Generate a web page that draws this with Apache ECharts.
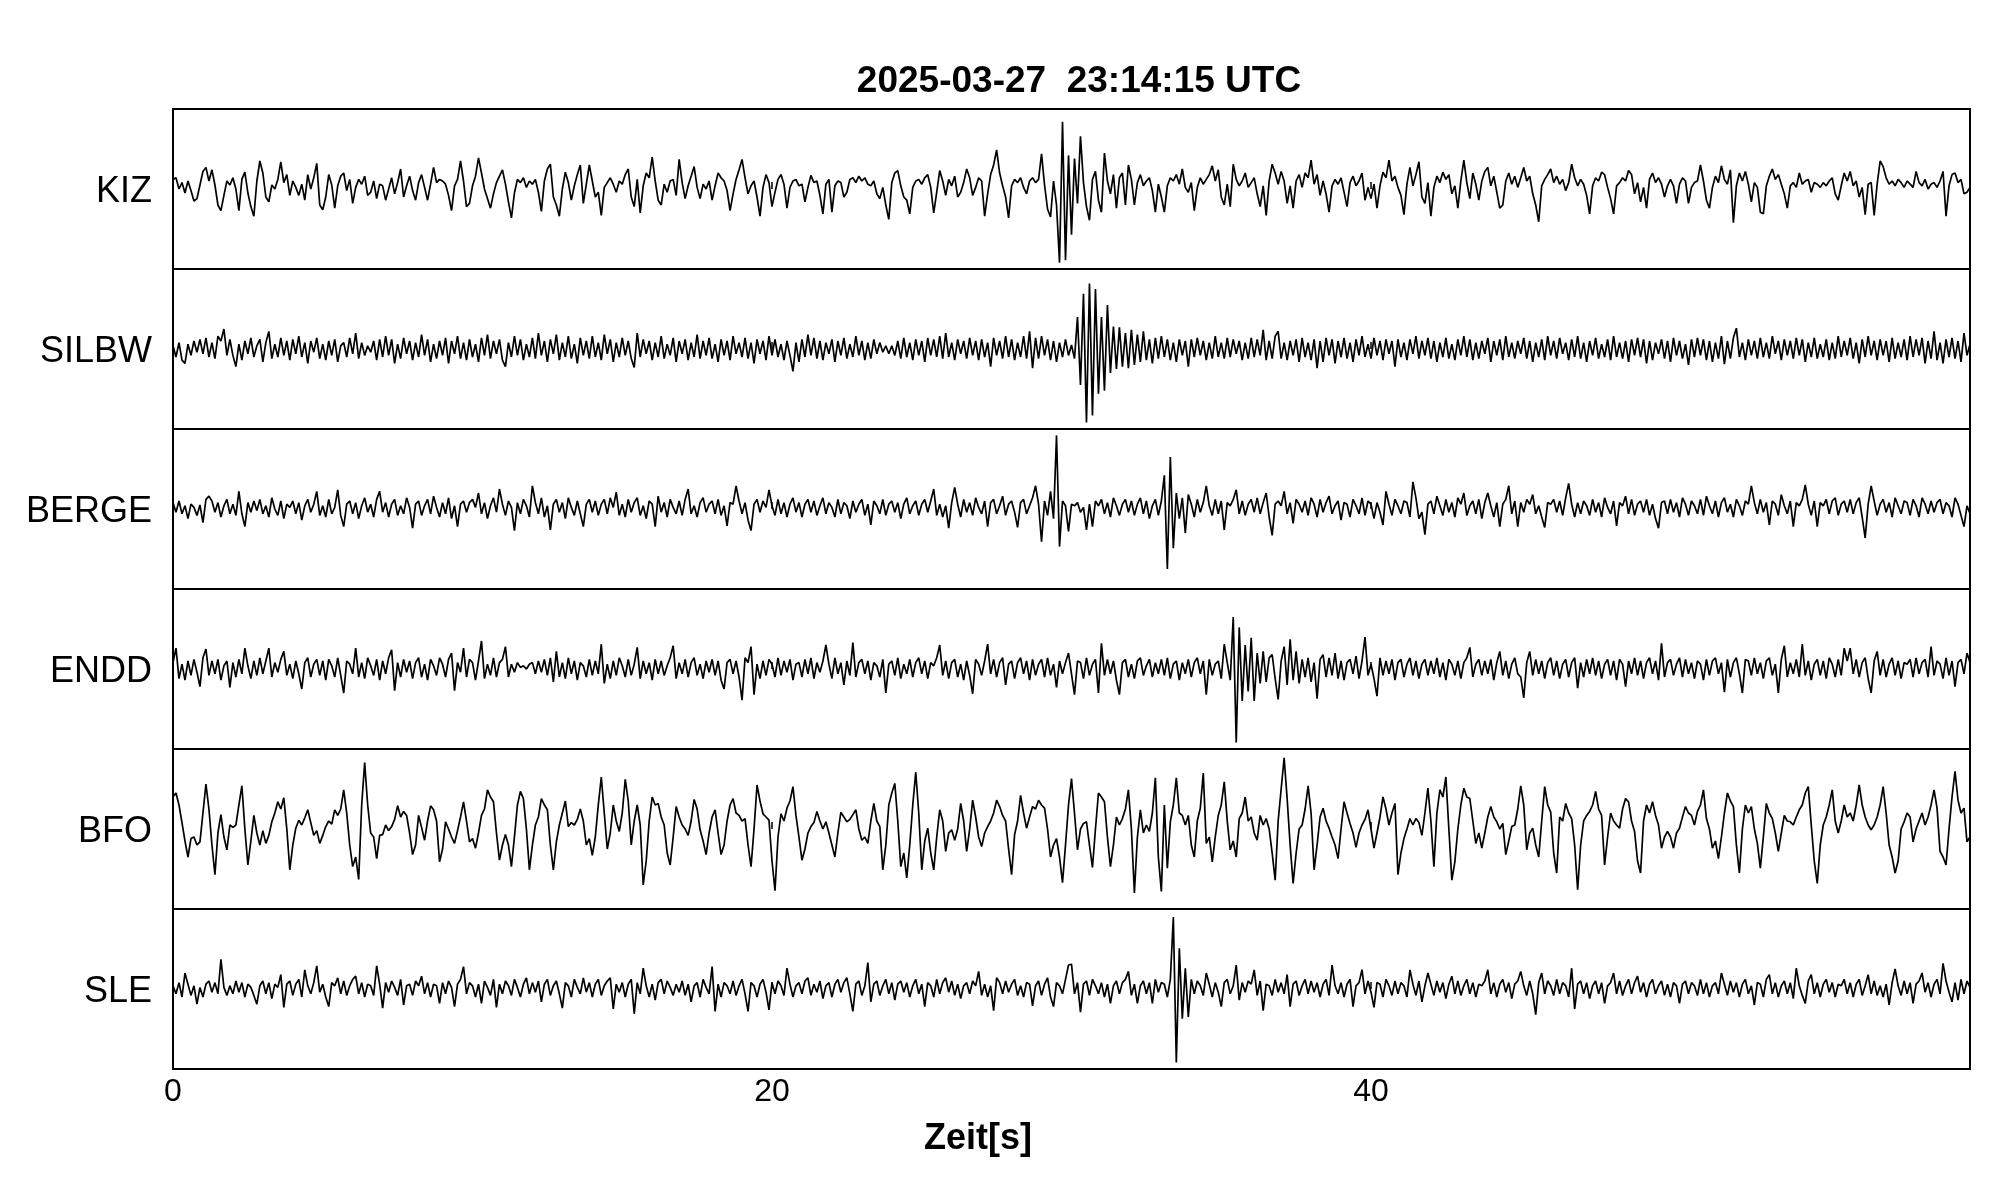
<!DOCTYPE html>
<html><head><meta charset="utf-8">
<script src="https://cdn.jsdelivr.net/npm/echarts@6/dist/echarts.min.js"></script>
<style>html,body{margin:0;padding:0;background:#fff}#c{width:2005px;height:1202px}</style>
</head><body><div id="c"></div><script>
const TITLE = '2025-03-27  23:14:15 UTC';
const X_NAME = 'Zeit[s]';
const STATIONS = ['KIZ','SILBW','BERGE','ENDD','BFO','SLE'];
const DT = 0.1;            // seconds per sample
const X_MIN = 0, X_MAX = 60, X_STEP = 20;

// amplitudes in percent of half panel height, one row = one second
const KIZ = [
12,14,0,8,-5,10,-2,-15,-12,5,
22,27,10,24,5,-20,-27,-8,10,5,
14,0,-27,12,21,-5,-22,-34,10,35,
20,-10,-16,5,0,12,34,8,18,-8,
10,2,-8,6,-14,18,0,14,32,-20,
-26,-10,18,5,-24,4,16,20,-2,12,
-18,2,12,6,16,-8,-4,10,-12,6,
4,-14,0,14,-6,8,25,-10,4,16,
-2,-14,8,18,2,-14,6,27,8,12,
10,6,-8,-27,4,12,35,10,-22,-18,
4,16,39,20,0,-12,-24,-6,8,16,
24,6,-16,-36,-5,12,8,14,2,10,
6,12,-4,-28,10,25,31,-10,-20,-34,
0,21,8,-14,4,18,30,-18,6,30,
10,-10,-4,-33,2,8,14,6,-4,10,
6,18,25,-10,-22,12,-30,4,20,14,
40,10,-14,-20,6,-4,10,12,-8,37,
8,-12,4,16,28,2,-12,6,0,10,
-14,4,20,14,10,-2,-27,-6,12,24,
37,14,-6,4,10,-10,-34,2,18,8,
-22,-4,12,18,6,-24,2,10,12,4,
6,-16,2,17,8,10,-8,-31,6,12,
-29,4,10,8,-10,-4,12,14,8,16,
10,14,6,4,10,-6,-12,2,-20,-38,
8,20,23,4,-10,-14,-31,2,10,12,
6,14,18,2,-30,-4,23,10,-8,12,
4,16,-10,-4,8,25,14,-8,2,14,
10,-34,-6,18,30,49,20,4,-10,-36,
4,12,8,14,2,-6,10,14,8,12,
44,5,-25,-35,10,-20,-92,84,-89,42,
-57,38,-18,66,8,-22,-39,12,22,-14,
-29,45,10,-6,18,-24,14,20,-20,30,
12,-20,8,18,4,10,14,-2,-29,6,
-10,-29,4,14,10,18,6,25,2,-4,
8,-27,2,14,6,12,18,29,10,24,
-10,-20,6,-22,31,12,4,10,20,2,
8,14,-6,-22,4,-33,10,31,20,6,
22,10,-18,4,-24,10,18,2,20,14,
36,6,18,-8,10,-6,-29,4,12,6,
14,-4,-22,8,16,4,10,20,-14,2,
-12,6,-24,4,21,14,36,10,16,2,
-8,-32,6,27,4,18,34,-10,-18,8,
-34,2,16,8,21,12,18,-6,4,-24,
10,36,8,-12,20,6,-14,10,22,27,
4,16,-4,-24,-20,10,20,6,16,2,
14,27,10,16,-6,-20,-41,4,12,18,
25,8,16,6,12,-2,8,31,14,4,
12,6,-8,-31,4,14,10,21,18,2,
-12,-31,4,8,14,10,23,18,-6,8,
-16,2,-24,12,20,8,14,6,-10,4,
12,4,-18,6,14,10,-18,2,8,10,
30,10,-14,-24,2,16,8,29,12,6,
24,-42,4,20,10,22,6,-16,8,2,
-29,-31,4,16,25,12,18,6,-6,-24,
4,8,2,20,6,10,12,-4,8,6,
2,8,4,10,14,-6,-14,4,20,10,
22,4,10,-10,2,-32,6,8,-33,6,
35,28,14,6,10,4,12,8,2,10,
6,2,22,8,4,12,0,6,8,2,
10,22,-34,4,18,20,8,12,-6,-4,2];

const SILBW = [
4,-10,8,-14,-18,6,-8,10,-4,12,
-6,14,-10,8,-12,16,10,25,-8,12,
-8,-22,6,-14,10,-6,14,-10,4,12,
-16,8,22,-12,6,-10,14,-8,10,-14,
12,-6,16,-10,8,-18,10,-4,14,-12,
6,-14,10,-8,12,-16,4,8,-10,14,
-6,20,-12,8,-8,4,-4,10,-14,12,
-10,16,-8,12,-18,6,-12,14,-6,10,
-14,8,-10,18,-8,12,-16,6,-12,10,
-8,14,-18,10,-6,16,-12,8,-14,12,
-10,6,-16,14,-8,18,-12,10,-6,12,
-14,-22,8,-10,16,-8,12,-14,6,-10,
14,-12,20,-8,10,-16,12,-6,18,-14,
8,-10,16,-12,6,-18,14,-8,10,-12,
16,-10,8,-14,18,-6,12,-16,8,-10,
14,-8,10,-12,-23,20,-10,12,-6,10,
-14,8,-10,16,-12,6,-8,14,-16,10,
-6,12,-14,8,-10,18,-12,10,-8,14,
-12,6,-16,12,-8,10,-14,16,-6,8,
-10,14,-12,8,-18,12,-6,10,-14,16,
-8,12,-10,6,-14,10,-8,-28,8,-16,
12,-10,18,-8,14,-12,10,-14,8,-6,
12,-16,10,-8,14,-12,6,-10,16,-8,
10,-14,8,-12,12,-6,8,-4,4,-6,
4,-8,10,-12,14,-10,8,-14,12,-8,
10,-16,14,-8,12,-10,16,-12,20,-10,
8,-14,12,-6,10,-12,14,-8,10,-14,
12,-10,8,-22,14,-8,10,-12,16,-10,
12,-14,8,-10,16,-12,22,-24,14,-12,
16,-8,12,-14,10,-16,8,-10,12,-8,
5,-12,40,-45,69,-92,82,-83,75,-56,
40,-52,55,-30,28,-25,27,-22,20,-24,
24,-20,18,-16,22,-14,12,-18,14,-12,
16,-10,12,-14,8,-16,12,-8,10,-22,
12,-10,14,-8,10,-14,8,-12,16,-10,
8,-12,14,-10,12,-6,10,-14,8,-12,
14,-10,12,-8,24,-14,10,-12,16,22,
-12,8,-14,10,-8,12,-16,14,-10,8,
-14,12,-24,10,-16,14,-8,12,-18,10,
-10,14,-12,8,-16,12,-8,16,-10,6,
-12,14,-8,10,-14,12,-6,10,-22,12,
-10,8,-14,12,-6,16,-12,10,-8,14,
-12,10,-16,8,-10,14,-12,6,-14,12,
-8,16,-10,12,-14,8,-12,10,-6,14,
-16,10,-8,12,-14,16,-10,8,-12,10,
-6,14,-12,10,-16,8,-10,12,-14,16,
-8,10,-12,14,-6,8,-14,12,-10,16,
-12,8,-16,10,-8,14,-12,6,-10,12,
-14,16,-10,8,-12,10,-16,12,-8,14,
-10,12,-18,10,-14,8,-6,12,-12,10,
-16,14,-8,10,-12,6,-20,12,-10,14,
-8,12,-14,10,-16,8,-12,16,-19,10,
-12,14,26,-10,8,-14,12,-8,10,-12,
14,-10,8,-12,16,-6,10,-14,12,-8,
10,-12,14,-8,12,-16,8,-10,14,-12,
6,-10,12,-14,8,-12,16,-10,10,-8,
14,-12,8,-18,12,-10,16,-8,10,-14,
12,-8,10,-16,14,-12,8,-10,12,-14,
16,-10,12,-8,14,-18,10,-12,22,-14,
8,-18,12,-10,14,-12,10,-16,20,-8,6];

const BERGE = [
8,-4,10,-6,4,-12,6,2,-8,5,
-17,12,16,10,-4,8,-10,4,12,-6,
6,-8,22,-6,-22,8,-4,10,-2,12,
-6,4,-10,14,0,-8,10,-12,6,2,
10,-6,8,-14,4,12,-4,6,22,-8,
4,-10,12,-6,2,24,-8,-22,6,10,
-6,8,-12,4,14,-4,6,-10,12,22,
-4,8,-10,6,12,-8,4,-6,14,2,
-24,6,10,-8,4,12,-6,16,2,-10,
8,-6,14,-12,4,-22,6,10,-4,8,
12,2,20,-6,8,-12,4,14,-4,25,
6,-8,10,2,-27,8,-6,12,4,-10,
29,8,-6,14,-10,4,-26,6,12,-4,
8,-12,14,2,-8,10,-6,-22,6,12,
-4,10,-8,6,12,-6,14,2,21,-8,
6,-10,12,-4,8,14,-8,4,-12,10,
6,-22,16,-4,8,-10,12,2,-6,10,
-8,12,25,-6,4,-10,8,14,-4,6,
10,-6,12,-8,4,-21,8,6,29,10,
-6,8,-14,-27,6,12,-4,10,2,24,
4,-8,12,-6,8,-10,6,14,-4,8,
-10,6,12,-4,10,-8,4,14,-6,8,
2,-10,12,-6,8,4,-12,10,-4,6,
12,-8,6,-20,10,4,-6,12,-8,6,
10,-4,8,-12,6,14,-6,4,10,-8,
6,12,-4,10,25,-8,6,-10,4,-24,
8,27,6,-10,12,-4,8,-8,14,2,
-6,10,-22,8,12,-6,4,16,-8,6,
10,-4,-23,8,12,-6,4,14,29,6,
-41,10,-8,22,-12,92,-47,10,4,-28,
6,4,8,-4,2,-26,6,-22,10,4,
12,-6,8,-10,14,4,-8,6,12,-4,
10,-8,6,14,-6,10,-12,4,12,-8,
10,42,-75,65,-49,20,-12,14,-30,18,
6,-10,12,-4,8,29,4,-8,12,-6,
10,-26,8,4,12,24,-6,10,-8,6,
12,-4,14,-6,8,20,-10,-33,6,10,
4,22,-6,8,-18,12,6,-4,10,-8,
14,6,-10,12,-4,8,16,-6,4,10,
-14,8,6,-10,12,4,-6,14,-8,10,
6,-12,8,-4,-20,22,6,-8,12,4,
-6,10,8,-10,34,14,-12,-4,-32,6,
10,-6,16,4,-8,12,-4,8,-10,14,
6,20,-8,4,10,-6,12,-12,8,20,
4,-10,8,-22,6,12,29,-6,10,-22,
8,-4,12,6,18,-6,4,-10,-23,8,
6,12,-4,10,-8,14,32,6,-10,8,
-6,10,4,-8,12,-4,8,-10,14,2,
-6,10,-21,8,4,16,-6,12,-8,6,
10,-4,12,-8,6,-12,-24,8,10,-6,
12,-4,8,-10,14,6,-8,10,4,-6,
12,-8,16,4,-6,10,-10,8,14,-4,
6,-10,12,4,-8,10,6,29,8,-6,
12,-4,8,-20,10,6,-8,18,4,-6,
10,-22,8,4,12,30,6,-8,10,-22,
8,4,12,-6,10,14,-8,6,10,-4,
12,-6,8,14,-10,-36,6,29,10,-8,
6,12,-4,8,-10,14,4,-6,10,8,
-8,12,4,-10,14,6,-6,10,-4,8,
12,-6,8,4,-10,14,6,-8,-22,4,-6];

const ENDD = [
8,26,-12,6,-14,10,-8,12,-4,-22,
14,25,-8,10,-6,12,-14,4,10,-23,
8,-10,12,-6,26,4,-12,10,-8,14,
-6,10,26,-10,8,-4,12,22,-8,6,
-12,10,-6,-25,8,14,-10,6,12,-8,
10,-14,12,4,-10,14,-8,-30,10,6,
-6,26,-10,8,-12,14,4,-8,12,-14,
10,-6,14,24,-27,8,-10,12,-4,10,
-12,8,14,-10,6,-14,12,4,-8,14,
6,-10,12,20,-27,8,-4,26,-10,12,
8,-14,10,35,-12,6,-8,14,-10,8,
12,28,-10,6,-4,8,2,4,0,6,
8,-6,10,-4,12,-8,14,-16,22,-10,
8,-12,14,-6,10,-14,8,4,-10,12,
-8,10,-6,31,-18,6,-12,10,-8,14,
4,-10,12,-8,6,27,-12,10,-6,8,
-14,12,-6,10,-8,4,14,29,-12,8,
-6,12,-10,8,14,-8,6,-12,10,-4,
12,-8,10,-14,-25,8,12,-6,10,-10,
-39,14,8,28,-32,6,-12,10,-8,12,
6,-10,14,-8,10,-4,12,-14,6,8,
-10,12,-6,14,-12,8,-4,10,30,6,
-12,14,-6,8,-20,10,-8,33,-10,8,
12,-6,10,-14,8,4,-10,12,-30,6,
10,-8,14,-12,6,-6,12,-10,8,14,
-6,10,-12,8,4,14,30,-8,10,-12,
8,12,-10,6,-14,10,-8,-31,12,6,
-8,10,31,-6,12,-10,8,14,-20,6,
10,-12,8,14,-6,10,-14,12,-8,6,
12,-10,14,-8,6,-23,10,-6,8,20,
-6,-32,10,8,-12,14,-8,6,12,-30,
32,-8,12,-6,10,-14,-32,8,12,-10,
6,-12,10,14,-8,4,12,-10,8,-6,
12,-8,14,-12,6,10,-14,8,-6,12,
-10,8,14,-6,10,-32,12,-8,6,10,
-12,31,8,-14,65,-92,52,-40,30,-28,
39,-40,20,-18,22,-16,14,18,-12,-38,
10,28,-20,37,-14,22,-18,12,-10,14,
-16,8,-37,12,18,-10,14,-8,20,-12,
10,-14,8,12,-6,16,-12,10,40,-8,
6,-12,-34,14,-8,10,-6,12,-14,8,
12,-10,6,14,-8,10,-12,6,12,-8,
10,-6,14,-10,8,-14,12,6,-8,10,
-12,8,14,27,-10,6,12,-8,10,-6,
12,-14,8,22,-8,10,-12,6,14,-6,
-10,-36,8,22,-8,12,-6,10,-12,8,
14,-8,10,-12,6,12,-10,8,14,-24,
8,-10,12,-6,14,-8,10,-12,6,12,
-8,10,-14,12,6,-22,10,-6,14,-8,
10,-12,8,14,-6,10,-14,32,-10,8,
12,-8,6,14,-10,12,-6,8,-12,10,
6,-14,12,-8,10,14,-6,8,-29,12,
-10,8,14,-6,-30,12,10,-8,14,-6,
8,-12,10,14,-8,6,-30,12,29,-10,
8,-6,12,-10,31,-8,10,-14,6,12,
-8,10,-12,14,6,-10,12,-8,26,10,
26,-6,12,-10,8,14,-12,-30,10,22,
-8,12,-10,6,14,-8,10,-12,8,6,
12,-10,14,-6,8,12,-10,28,-8,10,
6,-12,14,-8,10,-22,8,12,-6,20,8];

const BFO = [
40,45,30,8,-15,-35,-12,-10,-20,-16,
20,56,25,-20,-57,-5,18,-10,-26,5,
2,5,30,54,0,-45,-15,17,-5,-20,
-2,-18,-8,9,20,34,25,39,0,-51,
-20,1,11,5,14,24,8,-8,-2,-18,
-8,3,10,6,24,17,25,49,20,-20,
-47,-35,-63,30,83,30,-5,-10,-37,-8,
-7,5,-2,3,12,29,15,22,17,-5,
-32,-20,17,2,-14,10,29,24,10,-41,
-25,9,0,-10,-18,-2,15,34,10,-16,
-12,-24,-5,17,25,49,40,34,-5,-39,
-20,-7,-20,-47,-10,30,47,38,0,-51,
-20,5,15,38,30,24,-20,-51,-16,5,
20,35,3,8,5,12,25,10,-20,-12,
-33,-10,30,65,20,-25,-5,30,10,-3,
20,62,35,-20,10,30,5,-70,-40,10,
40,30,32,15,5,-30,-45,-10,28,15,
5,0,-8,10,37,25,-1,-15,-32,-5,
15,24,-5,-32,-20,10,30,38,20,17,
10,13,-20,-47,0,55,35,19,15,11,
-40,-77,-10,19,10,26,35,53,17,-10,
-39,-25,-5,3,8,22,10,0,9,-5,
-20,-35,-5,21,15,9,12,18,24,0,
-14,-10,-18,10,32,10,3,-51,-20,30,
45,57,10,-47,-30,-61,-20,30,71,20,
-51,-15,1,-30,-51,-10,24,10,-28,-5,
-1,-14,0,32,10,-28,0,36,15,-10,
-22,-5,3,10,20,36,28,17,10,-25,
-57,-7,10,42,20,1,15,28,25,36,
30,26,0,-35,-20,-12,-35,-67,-20,30,
63,20,-26,0,7,9,-20,-48,0,45,
40,34,-10,-47,-20,15,5,13,25,49,
0,-80,-10,24,-5,5,-3,20,64,-35,
-78,30,-49,9,30,64,20,17,5,17,
-20,-35,10,26,70,-18,-10,-41,-10,17,
30,59,10,-26,-15,-35,13,20,40,10,
15,-5,-14,17,5,13,0,-30,-64,10,
50,89,38,-20,-68,-30,0,5,25,54,
20,-51,-20,15,26,10,1,-10,-20,-37,
0,34,20,7,-5,-23,-5,5,12,24,
0,-24,-5,15,40,25,5,20,32,-57,
-30,-12,0,13,5,13,8,-8,20,51,
10,-47,20,49,40,65,0,-64,-41,0,
30,51,40,38,10,-18,-5,-24,-5,15,
28,15,9,0,7,-32,-15,3,5,25,
54,30,-26,-5,1,-20,-35,10,53,30,
21,-30,-55,15,10,32,20,13,-20,-76,
-20,10,17,22,30,47,25,17,-45,-10,
20,10,5,1,25,38,34,10,-3,-40,
-55,10,30,20,34,17,5,-24,-10,-3,
-10,-24,-5,1,15,28,20,17,5,22,
30,49,13,0,-24,-15,-37,-10,20,45,
35,28,-20,-55,0,30,20,28,0,-18,
-49,-10,32,20,13,-5,-28,-5,17,10,
9,5,15,24,30,45,53,5,-40,-68,
-20,5,15,30,49,10,-5,10,30,15,
20,10,30,55,30,15,5,-1,5,15,
30,53,20,-20,-35,-55,-40,0,9,20,
15,-16,0,10,20,5,15,30,49,26,
-28,-35,-45,0,40,72,36,20,26,-16,-10];

const SLE = [
4,-6,8,-10,20,6,-8,4,-19,2,
-10,6,10,-4,8,-6,37,2,-8,4,
-6,10,-4,8,-10,6,2,-8,-19,4,
10,-6,8,-12,6,2,18,-23,6,10,
-8,6,12,-10,24,4,-6,8,29,-4,
6,-10,-22,8,4,14,-6,10,-8,4,
12,16,-6,8,-10,6,4,-8,29,6,
-24,8,-4,10,2,-8,12,-20,4,6,
-8,10,4,16,-6,8,-10,6,4,-18,
8,-6,10,2,-22,6,12,28,-6,8,
4,-10,6,-18,10,2,-8,12,-23,6,
-6,10,4,-8,12,2,-10,6,14,-6,
8,-4,10,-16,6,12,-8,4,10,-6,
-24,8,4,-10,12,2,-6,14,-4,8,
-10,6,12,-8,4,10,14,-25,6,-4,
8,-10,6,12,-31,8,-6,26,4,-10,
6,-14,8,12,-6,10,2,-8,6,-4,
10,-8,6,-16,4,8,-10,12,2,-6,
28,-28,6,-10,8,4,-6,10,-8,4,
12,-6,-28,8,4,-10,6,12,-4,-26,
8,-6,10,4,-8,26,6,-10,4,8,
-6,10,14,-8,6,-4,10,-12,4,8,
-10,6,12,-4,8,14,-6,-28,6,10,
-8,4,33,-16,6,10,-8,4,12,-6,
8,-14,6,10,-4,8,-10,4,12,-6,
6,-22,8,4,-10,12,-6,8,14,-4,
10,-8,6,-12,4,8,-6,10,4,22,
-8,6,-10,4,-27,14,8,-6,10,-4,
6,12,-8,4,-10,8,6,-21,4,10,
-8,6,14,-10,-22,8,4,-6,12,30,
31,-6,8,-29,6,10,-8,12,4,-6,
8,-10,6,-18,4,10,-6,8,12,22,
-8,6,-18,4,10,-6,8,-18,12,-4,
8,6,-10,12,90,-92,51,-37,26,-35,
12,-6,10,4,-8,20,6,-10,8,-4,
-22,8,12,-6,4,30,-14,8,-4,10,
6,24,-8,10,-27,6,4,-8,12,-4,
8,-6,18,-22,6,10,-8,4,12,-6,
10,-4,8,-10,6,12,-8,30,4,-6,
8,-10,6,12,-22,4,8,24,-6,10,
-4,-23,8,6,-10,12,4,-8,10,-6,
8,4,-10,24,6,-8,10,-16,4,20,
6,-8,10,-4,8,-12,6,16,-6,10,
-8,4,12,-6,8,-10,6,4,10,24,
-6,8,-10,6,12,-4,8,-12,6,10,
22,4,-8,10,-6,-32,8,20,-6,10,
4,-8,12,-6,8,4,-10,26,-25,6,
10,-6,8,-12,4,10,-6,8,-18,4,
8,20,-6,10,-8,4,12,-6,8,16,
-4,8,-10,6,12,-6,4,10,-8,6,
-10,8,4,-18,6,10,-6,8,4,-8,
12,-6,8,-10,4,8,-6,20,6,-8,
10,-4,8,-10,6,12,-6,4,-20,8,
6,-10,12,18,-6,8,-10,4,10,-6,
8,-12,26,4,-8,-18,10,18,-6,8,
-10,6,12,-4,8,-10,6,4,12,-6,
8,-10,6,12,-8,4,18,-6,10,-8,
4,-10,6,-20,8,25,4,-8,10,-6,
8,-18,6,10,20,-4,8,-10,6,12,
-6,32,10,-4,-16,8,-14,12,-6,10,2];

const TRACES = [KIZ, SILBW, BERGE, ENDD, BFO, SLE];

const FONT = '"Liberation Sans", Arial, Helvetica, sans-serif';
const L = 173, R = 35, T0 = 109, PH = 160;
const chart = echarts.init(document.getElementById('c'), null, {renderer: 'canvas', width: 2005, height: 1202});
const grids = [], xAxes = [], yAxes = [], series = [];
const graphics = [
  {type: 'text', x: 1079, y: 82, style: {text: TITLE, font: 'bold 37px ' + FONT, fill: '#000', align: 'center', verticalAlign: 'middle', textAlign: 'center', textVerticalAlign: 'middle'}},
  {type: 'text', x: 978, y: 1139, style: {text: X_NAME, font: 'bold 36px ' + FONT, fill: '#000', align: 'center', verticalAlign: 'middle', textAlign: 'center', textVerticalAlign: 'middle'}}
];
STATIONS.forEach((name, i) => {
  const last = i === STATIONS.length - 1;
  grids.push({left: L, right: R, top: T0 + PH * i, height: PH, show: true, borderColor: '#000', borderWidth: 2, backgroundColor: 'rgba(0,0,0,0)'});
  xAxes.push({type: 'value', gridIndex: i, min: X_MIN, max: X_MAX, interval: X_STEP,
    axisLine: {show: false}, splitLine: {show: false},
    axisTick: {show: true, inside: true, length: 7, lineStyle: {color: '#000', width: 1.5}},
    axisLabel: {show: last, color: '#000', fontSize: 32, fontFamily: FONT, margin: 7, showMaxLabel: false,
      formatter: v => (v >= X_MAX ? '' : String(v))}});
  yAxes.push({type: 'value', gridIndex: i, min: -100, max: 100, show: false});
  series.push({type: 'line', name: name, xAxisIndex: i, yAxisIndex: i,
    data: TRACES[i].map((v, k) => [k * DT, v]),
    showSymbol: false, symbol: 'none', lineStyle: {color: '#000', width: 1.7},
    silent: true, animation: false, clip: true});
  graphics.push({type: 'text', x: 152, y: T0 + PH * i + PH / 2 + 3,
    style: {text: name, font: '36px ' + FONT, fill: '#000', align: 'right', verticalAlign: 'middle', textAlign: 'right', textVerticalAlign: 'middle'}});
});
chart.setOption({animation: false, backgroundColor: '#fff', grid: grids, xAxis: xAxes, yAxis: yAxes, series: series, graphic: graphics});
</script></body></html>
